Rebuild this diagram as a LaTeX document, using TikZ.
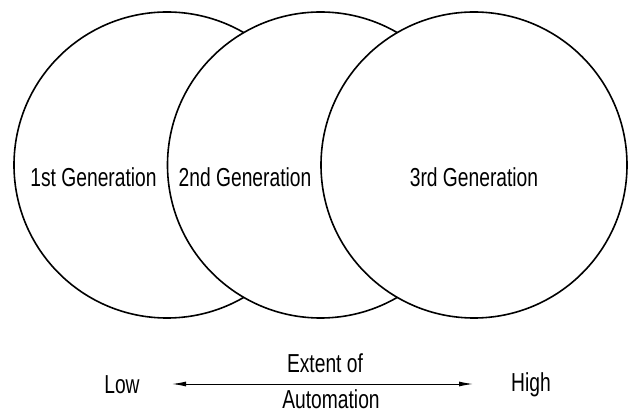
\documentclass[tikz,border=0pt]{standalone}
\usepackage{fontspec}
\setmainfont{Liberation Sans}
\usepackage{tikz}
\usetikzlibrary{arrows.meta}
\newcommand{\narrowtext}[1]{\scalebox{0.74}[1]{#1}}

\begin{document}
\begin{tikzpicture}[
  x=1pt, y=1pt,
  gen/.style={draw, circle, minimum size=306pt, inner sep=0pt, fill=white, line width=1.6pt},
  lbl/.style={font=\fontsize{26}{28}\selectfont, inner sep=0pt},
  axis/.style={line width=1pt, {Latex[length=14pt,width=5pt]}-{Latex[length=14pt,width=5pt]}},
]
  \useasboundingbox (0,0) rectangle (629,415);

  % Generations
  \node[gen] (g1) at (167,250) {};
  \node[gen] (g2) at (320.5,250) {};
  \node[gen] (g3) at (474,250) {};

  \node[lbl] (t1) at (93.5,238) {\narrowtext{1st Generation}};
  \node[lbl] (t2) at (245,238) {\narrowtext{2nd Generation}};
  \node[lbl] (t3) at (474,238) {\narrowtext{3rd Generation}};

  % Extent of automation
  \node[lbl] (low) at (122,30) {\narrowtext{Low}};
  \node[lbl] (high) at (531,30) {\narrowtext{High}};
  \coordinate (lo) at (172,31);
  \coordinate (hi) at (473,31);
  \draw[axis] (lo) -- (hi);
  \node[lbl, anchor=base] (ext) at (325,42) {\narrowtext{Extent of}};
  \node[lbl, anchor=base] (aut) at (331,7) {\narrowtext{Automation}};

\end{tikzpicture}
\end{document}
